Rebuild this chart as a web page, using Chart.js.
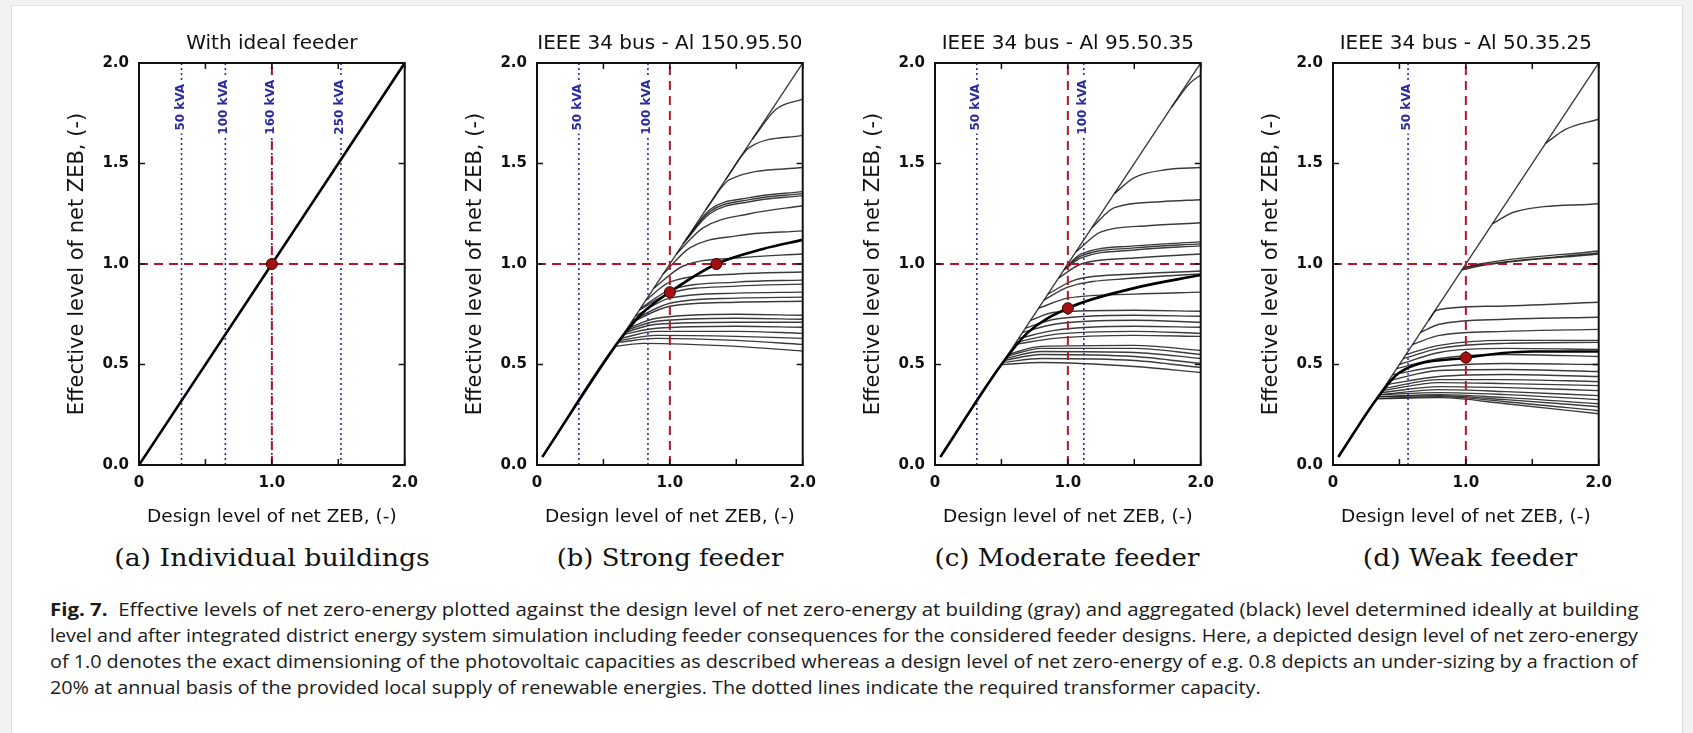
<!DOCTYPE html>
<html>
<head>
<meta charset="utf-8">
<script src="https://cdn.jsdelivr.net/npm/chart.js@4.4.0/dist/chart.umd.min.js"></script>
<style>
  html, body { margin: 0; padding: 0; background: #f2f2f2; width: 1693px; height: 733px; overflow: hidden; }
  #card { position: absolute; left: 11px; top: 5px; width: 1670px; height: 740px; background: #fff;
          border-left: 1px solid #dcdcdc; border-right: 1px solid #dcdcdc; border-top: 1px solid #e4e4e4; }
  canvas { position: absolute; top: 0; }
  .sub { position: absolute; top: 558px; font-family: "DejaVu Serif", serif; font-size: 24px; white-space: nowrap;
         color: #111; transform-origin: center; }
  .cap { position: absolute; left: 50px; font-family: "Open Sans", sans-serif; font-size: 18px; white-space: nowrap;
         color: #1a1a1a; transform-origin: left center; }
</style>
</head>
<body>
<div id="card"></div>
<canvas id="pa" width="398" height="540" style="left:29px"></canvas>
<canvas id="pb" width="398" height="540" style="left:427px"></canvas>
<canvas id="pc" width="398" height="540" style="left:825px"></canvas>
<canvas id="pd" width="398" height="540" style="left:1223px"></canvas>

<div class="sub" style="left:272px" data-w="316">(a) Individual buildings</div>
<div class="sub" style="left:670px" data-w="227">(b) Strong feeder</div>
<div class="sub" style="left:1067px" data-w="265">(c) Moderate feeder</div>
<div class="sub" style="left:1470px" data-w="214">(d) Weak feeder</div>

<div class="cap" style="top:609px" data-w="1588"><b>Fig. 7.</b>&nbsp; Effective levels of net zero-energy plotted against the design level of net zero-energy at building (gray) and aggregated (black) level determined ideally at building</div>
<div class="cap" style="top:635px" data-w="1588">level and after integrated district energy system simulation including feeder consequences for the considered feeder designs. Here, a depicted design level of net zero-energy</div>
<div class="cap" style="top:661px" data-w="1588">of 1.0 denotes the exact dimensioning of the photovoltaic capacities as described whereas a design level of net zero-energy of e.g. 0.8 depicts an under-sizing by a fraction of</div>
<div class="cap" id="lastline" style="top:687px">20% at annual basis of the provided local supply of renewable energies. The dotted lines indicate the required transformer capacity.</div>

<script>
// ---- data ----
const titles = ["With ideal feeder", "IEEE 34 bus - Al 150.95.50", "IEEE 34 bus - Al 95.50.35", "IEEE 34 bus - Al 50.35.25"];
const refLevel = 1.0;
const kvaLabelY = 1.78;

// transformer capacity lines
const kvaA = [0.32, 0.65, 1.0, 1.52];
const kvaTextA = ["50 kVA", "100 kVA", "160 kVA", "250 kVA"];
const kvaB = [0.315, 0.835];
const kvaTextB = ["50 kVA", "100 kVA"];
const kvaC = [0.315, 1.12];
const kvaTextC = ["50 kVA", "100 kVA"];
const kvaD = [0.565];
const kvaTextD = ["50 kVA"];

// aggregated (black) curves
const aggA = [[0, 0], [2, 2]];
const aggB = [[0.04, 0.04], [0.62, 0.62], [0.8, 0.76], [1.0, 0.86], [1.35, 1.0], [1.7, 1.075], [2.0, 1.12]];
const aggC = [[0.04, 0.04], [0.5, 0.5], [0.7, 0.66], [1.0, 0.78], [1.5, 0.88], [2.0, 0.945]];
const aggD = [[0.04, 0.04], [0.33, 0.33], [0.5, 0.46], [1.0, 0.534], [1.5, 0.565], [2.0, 0.565]];

// marked design points
const dotsA = [[1.0, 1.0]];
const dotsB = [[1.0, 0.86], [1.35, 1.0]];
const dotsC = [[1.0, 0.78]];
const dotsD = [[1.0, 0.534]];

// building (gray) curves
const curvesA = [];
const curvesB = [
  [[0.04, 0.04], [2.0, 2.0]],
  [[1.62, 1.62], [1.8, 1.77], [2.0, 1.82]],
  [[1.42, 1.42], [1.6, 1.58], [2.0, 1.64]],
  [[1.27, 1.27], [1.45, 1.42], [2.0, 1.48]],
  [[1.12, 1.12], [1.3, 1.27], [1.6, 1.33], [2.0, 1.36]],
  [[1.12, 1.12], [1.3, 1.26], [1.6, 1.32], [2.0, 1.35]],
  [[1.1, 1.1], [1.3, 1.25], [1.6, 1.31], [2.0, 1.34]],
  [[1.05, 1.05], [1.25, 1.18], [1.6, 1.25], [2.0, 1.29]],
  [[0.95, 0.95], [1.15, 1.08], [1.5, 1.14], [2.0, 1.165]],
  [[0.88, 0.88], [1.1, 0.99], [1.5, 1.03], [2.0, 1.05]],
  [[0.82, 0.82], [1.0, 0.91], [1.5, 0.95], [2.0, 0.96]],
  [[0.78, 0.78], [1.0, 0.87], [1.5, 0.91], [2.0, 0.92]],
  [[0.77, 0.77], [1.0, 0.855], [1.5, 0.89], [2.0, 0.9]],
  [[0.74, 0.74], [1.0, 0.83], [1.5, 0.855], [2.0, 0.86]],
  [[0.72, 0.72], [1.0, 0.805], [1.5, 0.83], [2.0, 0.835]],
  [[0.71, 0.71], [1.0, 0.79], [1.5, 0.81], [2.0, 0.815]],
  [[0.68, 0.68], [0.9, 0.73], [1.5, 0.75], [2.0, 0.745]],
  [[0.67, 0.67], [0.9, 0.715], [1.5, 0.73], [2.0, 0.725]],
  [[0.66, 0.66], [0.9, 0.7], [1.5, 0.71], [2.0, 0.71]],
  [[0.65, 0.65], [0.9, 0.68], [1.5, 0.69], [2.0, 0.685]],
  [[0.63, 0.63], [0.9, 0.665], [1.5, 0.665], [2.0, 0.655]],
  [[0.62, 0.62], [0.9, 0.645], [1.5, 0.64], [2.0, 0.63]],
  [[0.61, 0.61], [0.9, 0.63], [1.5, 0.62], [2.0, 0.6]],
  [[0.59, 0.59], [0.8, 0.605], [1.5, 0.59], [2.0, 0.567]],
];
const curvesC = [
  [[0.04, 0.04], [2.0, 2.0]],
  [[1.78, 1.78], [1.92, 1.9], [2.0, 1.94]],
  [[1.35, 1.35], [1.5, 1.43], [1.75, 1.47], [2.0, 1.48]],
  [[1.18, 1.18], [1.35, 1.28], [1.7, 1.31], [2.0, 1.32]],
  [[1.06, 1.06], [1.25, 1.16], [1.6, 1.19], [2.0, 1.205]],
  [[0.98, 0.98], [1.1, 1.05], [1.5, 1.09], [2.0, 1.11]],
  [[0.98, 0.98], [1.1, 1.04], [1.5, 1.08], [2.0, 1.1]],
  [[0.97, 0.97], [1.1, 1.03], [1.5, 1.07], [2.0, 1.09]],
  [[0.93, 0.93], [1.1, 1.0], [1.5, 1.03], [2.0, 1.05]],
  [[0.85, 0.85], [1.05, 0.92], [1.5, 0.95], [2.0, 0.965]],
  [[0.82, 0.82], [1.0, 0.885], [1.5, 0.93], [2.0, 0.95]],
  [[0.78, 0.78], [1.0, 0.83], [1.5, 0.85], [2.0, 0.86]],
  [[0.72, 0.72], [0.9, 0.76], [1.5, 0.77], [2.0, 0.765]],
  [[0.68, 0.68], [0.9, 0.725], [1.5, 0.745], [2.0, 0.74]],
  [[0.66, 0.66], [0.9, 0.7], [1.5, 0.72], [2.0, 0.71]],
  [[0.63, 0.63], [0.9, 0.67], [1.5, 0.69], [2.0, 0.685]],
  [[0.61, 0.61], [0.9, 0.65], [1.5, 0.665], [2.0, 0.655]],
  [[0.6, 0.6], [0.9, 0.63], [1.5, 0.645], [2.0, 0.64]],
  [[0.55, 0.55], [0.8, 0.59], [1.5, 0.595], [2.0, 0.57]],
  [[0.54, 0.54], [0.8, 0.58], [1.5, 0.58], [2.0, 0.55]],
  [[0.53, 0.53], [0.8, 0.565], [1.5, 0.56], [2.0, 0.53]],
  [[0.52, 0.52], [0.8, 0.55], [1.5, 0.54], [2.0, 0.505]],
  [[0.51, 0.51], [0.8, 0.53], [1.5, 0.52], [2.0, 0.485]],
  [[0.5, 0.5], [0.8, 0.51], [1.5, 0.49], [2.0, 0.46]],
];
const curvesD = [
  [[0.04, 0.04], [2.0, 2.0]],
  [[1.6, 1.6], [1.75, 1.67], [2.0, 1.72]],
  [[1.2, 1.2], [1.37, 1.26], [2.0, 1.3]],
  [[0.98, 0.98], [1.1, 1.0], [2.0, 1.065]],
  [[0.98, 0.98], [1.1, 0.995], [2.0, 1.055]],
  [[0.97, 0.97], [1.1, 0.99], [2.0, 1.05]],
  [[0.72, 0.72], [0.78, 0.77], [1.2, 0.79], [2.0, 0.81]],
  [[0.66, 0.66], [0.8, 0.7], [1.3, 0.725], [2.0, 0.735]],
  [[0.6, 0.6], [0.8, 0.645], [1.3, 0.665], [2.0, 0.675]],
  [[0.55, 0.55], [0.8, 0.595], [1.3, 0.62], [2.0, 0.62]],
  [[0.53, 0.53], [0.8, 0.58], [1.3, 0.605], [2.0, 0.61]],
  [[0.5, 0.5], [0.8, 0.56], [1.3, 0.58], [2.0, 0.575]],
  [[0.48, 0.48], [0.8, 0.53], [1.3, 0.55], [2.0, 0.54]],
  [[0.45, 0.45], [0.8, 0.49], [1.3, 0.505], [2.0, 0.5]],
  [[0.42, 0.42], [0.8, 0.47], [1.3, 0.475], [2.0, 0.465]],
  [[0.4, 0.4], [0.8, 0.44], [1.3, 0.45], [2.0, 0.44]],
  [[0.38, 0.38], [0.8, 0.425], [1.3, 0.425], [2.0, 0.415]],
  [[0.37, 0.37], [0.8, 0.41], [1.3, 0.405], [2.0, 0.395]],
  [[0.36, 0.36], [0.8, 0.39], [1.3, 0.385], [2.0, 0.37]],
  [[0.35, 0.35], [0.8, 0.375], [1.3, 0.365], [2.0, 0.345]],
  [[0.35, 0.35], [0.8, 0.36], [1.3, 0.35], [2.0, 0.325]],
  [[0.34, 0.34], [0.8, 0.35], [1.3, 0.335], [2.0, 0.305]],
  [[0.34, 0.34], [0.8, 0.345], [1.3, 0.325], [2.0, 0.29]],
  [[0.33, 0.33], [0.8, 0.34], [1.3, 0.315], [2.0, 0.27]],
  [[0.33, 0.33], [0.8, 0.335], [1.3, 0.305], [2.0, 0.255]],
];

// ---- drawing ----
const F = '"DejaVu Sans", sans-serif';
const RED = "#b0172b";
const BLUE = "#2b2ba0";

function pts(arr) {
  return arr.map((p) => ({ x: p[0], y: p[1] }));
}

// frame with inward ticks on all four sides, panel title over the plot area, kVA labels
const framePlugin = {
  id: "frame",
  afterDatasetsDraw(chart, args, opts) {
    const { ctx, chartArea: a, scales } = chart;
    const x = scales.x, y = scales.y;
    ctx.save();

    // kVA labels (white box hides the dotted line behind the text)
    ctx.font = "bold 12px " + F;
    ctx.textAlign = "center";
    ctx.textBaseline = "middle";
    opts.xs.forEach((v, i) => {
      const w = ctx.measureText(opts.labels[i]).width;
      ctx.save();
      ctx.translate(x.getPixelForValue(v) - 2, y.getPixelForValue(opts.labelY));
      ctx.rotate(-Math.PI / 2);
      ctx.fillStyle = "#fff";
      ctx.fillRect(-w / 2 - 3, -7, w + 6, 14);
      ctx.fillStyle = BLUE;
      ctx.fillText(opts.labels[i], 0, 1);
      ctx.restore();
    });

    ctx.strokeStyle = "#111";
    ctx.lineWidth = 2;
    ctx.strokeRect(a.left, a.top, a.width, a.height);
    ctx.lineWidth = 1.5;
    ctx.beginPath();
    x.ticks.forEach((t) => {
      const px = x.getPixelForValue(t.value);
      ctx.moveTo(px, a.bottom); ctx.lineTo(px, a.bottom - 6);
      ctx.moveTo(px, a.top); ctx.lineTo(px, a.top + 6);
    });
    y.ticks.forEach((t) => {
      const py = y.getPixelForValue(t.value);
      ctx.moveTo(a.left, py); ctx.lineTo(a.left + 6, py);
      ctx.moveTo(a.right, py); ctx.lineTo(a.right - 6, py);
    });
    ctx.stroke();

    ctx.font = "20px " + F;
    ctx.fillStyle = "#111";
    ctx.textAlign = "center";
    ctx.textBaseline = "middle";
    ctx.fillText(opts.title, (a.left + a.right) / 2, a.top - 19);
    ctx.restore();
  },
};

function makePanel(id, title, curves, agg, dots, kvaX, kvaText) {
  const datasets = [];
  datasets.push({
    data: pts(dots), showLine: false, pointRadius: 5.5,
    pointBackgroundColor: "#a50f0f", pointBorderColor: "#3d0000", pointBorderWidth: 1, order: 0,
  });
  datasets.push({
    data: pts(agg), borderColor: "#000", borderWidth: 2.6, pointRadius: 0,
    cubicInterpolationMode: "monotone", order: 1,
  });
  datasets.push({
    data: pts([[0, refLevel], [2, refLevel]]), borderColor: RED, borderWidth: 2,
    borderDash: [9, 6], pointRadius: 0, order: 2,
  });
  datasets.push({
    data: pts([[refLevel, 0], [refLevel, 2]]), borderColor: RED, borderWidth: 2,
    borderDash: [9, 6], pointRadius: 0, order: 2,
  });
  kvaX.forEach((v) => {
    datasets.push({
      data: pts([[v, 0], [v, 2]]), borderColor: BLUE, borderWidth: 1.6,
      borderDash: [2, 3], pointRadius: 0, order: 3,
    });
  });
  curves.forEach((c) => {
    datasets.push({
      data: pts(c), borderColor: "rgba(25,25,25,0.85)", borderWidth: 1.4, pointRadius: 0,
      cubicInterpolationMode: "monotone", order: 5,
    });
  });

  new Chart(document.getElementById(id), {
    type: "line",
    data: { datasets: datasets },
    options: {
      responsive: false,
      animation: false,
      events: [],
      layout: { padding: { left: 0, right: 16, top: 63, bottom: 0 } },
      plugins: {
        legend: { display: false },
        tooltip: { enabled: false },
        title: { display: false },
        frame: { xs: kvaX, labels: kvaText, labelY: kvaLabelY, title: title },
      },
      scales: {
        x: {
          type: "linear", min: 0, max: 2,
          grid: { display: false, drawTicks: false },
          border: { display: false },
          ticks: {
            stepSize: 0.5, autoSkip: false, maxRotation: 0, padding: 9, color: "#111",
            font: { family: F, size: 15, weight: "bold" },
            callback: (v) => (v === 0 ? "0" : v % 1 === 0 ? v.toFixed(1) : ""),
          },
          title: {
            display: true, text: "Design level of net ZEB, (-)", color: "#111",
            font: { family: F, size: 18.5 }, padding: { top: 0, bottom: 12 },
          },
          afterFit: (s) => { s.height = 75; },
        },
        y: {
          type: "linear", min: 0, max: 2,
          grid: { display: false, drawTicks: false },
          border: { display: false },
          ticks: {
            stepSize: 0.5, padding: 10, color: "#111",
            font: { family: F, size: 15, weight: "bold" },
            callback: (v) => v.toFixed(1),
          },
          title: {
            display: true, text: "Effective level of net ZEB, (-)", color: "#111",
            font: { family: F, size: 21 }, padding: { top: 36, bottom: 0 },
          },
          afterFit: (s) => { s.width = 110; },
        },
      },
    },
    plugins: [framePlugin],
  });
}

makePanel("pa", titles[0], curvesA, aggA, dotsA, kvaA, kvaTextA);
makePanel("pb", titles[1], curvesB, aggB, dotsB, kvaB, kvaTextB);
makePanel("pc", titles[2], curvesC, aggC, dotsC, kvaC, kvaTextC);
makePanel("pd", titles[3], curvesD, aggD, dotsD, kvaD, kvaTextD);

// stretch caption lines to the widths they have in the figure
let capScale = 1;
document.querySelectorAll("[data-w]").forEach((el) => {
  const f = +el.dataset.w / el.offsetWidth;
  if (el.classList.contains("sub")) {
    el.style.transform = "translate(-50%, -50%) scaleX(" + f + ")";
  } else {
    capScale = f;
    el.style.transform = "translateY(-50%) scaleX(" + f + ")";
  }
});
document.getElementById("lastline").style.transform = "translateY(-50%) scaleX(" + capScale + ")";
</script>
</body>
</html>
